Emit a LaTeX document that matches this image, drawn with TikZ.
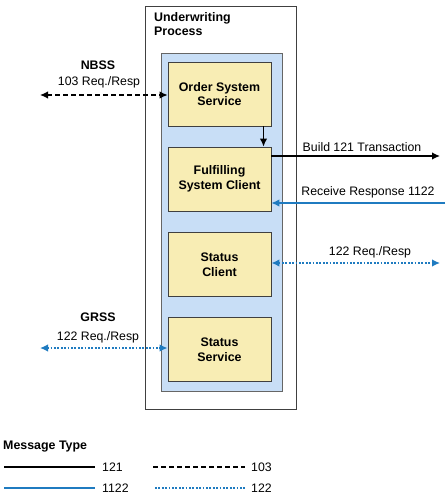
\documentclass[tikz,border=0pt]{standalone}
\usepackage{fontspec}
\setmainfont{Liberation Sans}
\usetikzlibrary{arrows.meta}
\definecolor{panelblue}{HTML}{C8DEF6}
\definecolor{boxyellow}{HTML}{F8EDB4}
\definecolor{lineblue}{HTML}{1F7BC0}
\begin{document}
\begin{tikzpicture}[x=1pt,y=-1pt,
  comp/.style={draw=black!75, line width=0.8pt, fill=boxyellow, minimum width=103pt, minimum height=64pt, inner sep=0pt, align=center, font=\fontsize{12.4}{14.5}\selectfont\bfseries},
  lbl/.style={font=\fontsize{12.3}{14}\selectfont, inner sep=0pt},
  blbl/.style={font=\fontsize{12.4}{14.5}\selectfont\bfseries, inner sep=0pt},
  tip/.style={-{Latex[length=8pt,width=7.5pt]}},
  tips/.style={{Latex[length=8pt,width=7.5pt]}-{Latex[length=8pt,width=7.5pt]}},
  msg121/.style={draw=black, line width=1.4pt},
  msg103/.style={draw=black, line width=1.4pt, dash pattern=on 4.5pt off 3.5pt},
  msg1122/.style={draw=lineblue, line width=1.4pt},
  msg122/.style={draw=lineblue, line width=1.5pt, dash pattern=on 1.8pt off 1.6pt},
]
\useasboundingbox (0,0) rectangle (445,497);
% outer box
\node[draw=black!75, line width=0.8pt, minimum width=151pt, minimum height=403pt, inner sep=0pt] (uw) at (220.5,207.5) {};
\node[blbl, anchor=north west, align=left] (uwt) at (154,12) {Underwriting\\Process};
% panel
\node[draw=black!60, line width=0.8pt, fill=panelblue, minimum width=121pt, minimum height=338pt, inner sep=0pt] (panel) at (221.5,222) {};
% components
\node[comp] (oss) at (219.5,94) {Order System\\Service};
\node[comp] (fsc) at (219.5,179) {Fulfilling\\System Client};
\node[comp] (sc) at (219.5,264.5) {Status\\Client};
\node[comp] (ss) at (219.5,349.5) {Status\\Service};
% internal arrow
\draw[msg121, tip] ([xshift=44pt]oss.south) -- ([xshift=44pt]fsc.north);
% external endpoints
\coordinate (nbssL) at (40,95);
\coordinate (buildR) at (440,156);
\coordinate (recvR) at (445,203);
\coordinate (scR) at (440,263);
\coordinate (grssL) at (40,348);
% NBSS
\node[blbl] (nbss) at (98,65) {NBSS};
\node[lbl] (nbssq) at (99,82) {103 Req./Resp};
\draw[msg103, tips] (nbssL) -- (oss.west |- nbssL);
% Build 121
\node[lbl] (build) at (362,147) {Build 121 Transaction};
\draw[msg121, tip] (fsc.east |- buildR) -- (buildR);
% Receive 1122
\node[lbl] (recv) at (368,192) {Receive Response 1122};
\draw[msg1122, tip] (recvR) -- (fsc.east |- recvR);
% 122 right
\node[lbl] (scq) at (370,252) {122 Req./Resp};
\draw[msg122, tips, lineblue] (sc.east |- scR) -- (scR);
% GRSS
\node[blbl] (grss) at (98,317) {GRSS};
\node[lbl] (grssq) at (98,337) {122 Req./Resp};
\draw[msg122, tips, lineblue] (grssL) -- (ss.west |- grssL);
% legend
\node[blbl, anchor=west] (mt) at (3,447) {Message Type};
\coordinate (l1a) at (4,467); \coordinate (l1b) at (95,467);
\coordinate (l2a) at (153,467); \coordinate (l2b) at (245,467);
\coordinate (l3a) at (4,488); \coordinate (l3b) at (95,488);
\coordinate (l4a) at (155,488); \coordinate (l4b) at (245,488);
\draw[msg121] (l1a) -- (l1b);
\node[lbl, anchor=west] (t121) at (102,467) {121};
\draw[msg103] (l2a) -- (l2b);
\node[lbl, anchor=west] (t103) at (251,467) {103};
\draw[msg1122] (l3a) -- (l3b);
\node[lbl, anchor=west] (t1122) at (102,488) {1122};
\draw[msg122] (l4a) -- (l4b);
\node[lbl, anchor=west] (t122) at (251,488) {122};
\end{tikzpicture}
\end{document}
